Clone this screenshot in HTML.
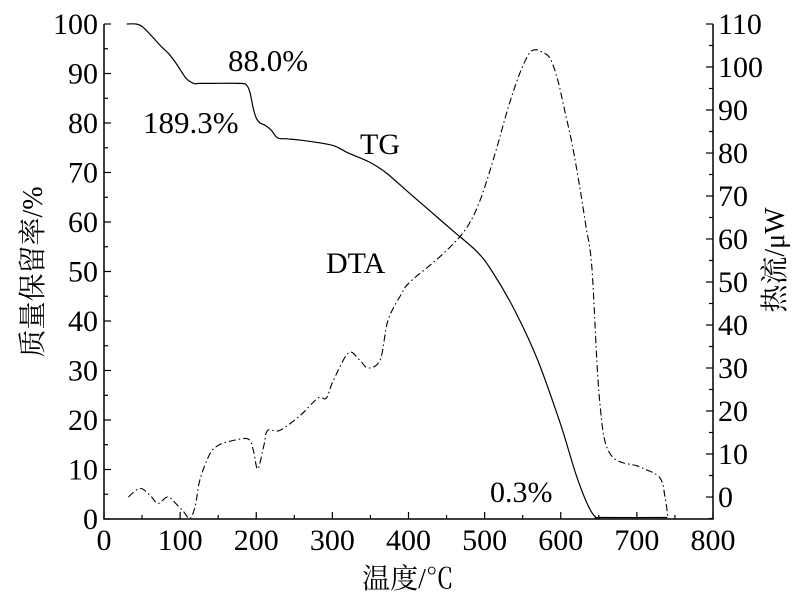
<!DOCTYPE html>
<html><head><meta charset="utf-8"><style>
body{margin:0;background:#fff;}
svg text{font-family:"Liberation Serif","Noto Serif CJK SC",serif;fill:#000;}
</style></head><body>
<svg width="800" height="596" xmlns="http://www.w3.org/2000/svg">
<g id="axes"></g>
<g id="series"></g>
<text x="228" y="71" font-size="31">88.0%</text>
<text x="143" y="133" font-size="31">189.3%</text>
<text x="360" y="154" font-size="30">TG</text>
<text x="326" y="273" font-size="30">DTA</text>
<text x="490" y="502" font-size="30">0.3%</text>
<text x="408" y="588" font-size="28" text-anchor="middle">温度/℃</text>
<text transform="translate(42,272) rotate(-90)" font-size="28" text-anchor="middle">质量保留率/%</text>
<text transform="translate(784,260) rotate(-90)" font-size="28" text-anchor="middle">热流/μW</text>
</svg>
<script>
const xTicks=[0,100,200,300,400,500,600,700,800];
const leftTicks=[0,10,20,30,40,50,60,70,80,90,100];
const rightTicks=[0,10,20,30,40,50,60,70,80,90,100,110];
const tgTemp=[30,42,50,60,75,85,95,108,118,125,140,180,188,192,196,200,205,212,220,228,240,260,300,320,350,370,400,430,460,490,510,540,570,600,620,635,645,655,740];
const tgMass=[100,100,99.5,98,95.5,94,92,89,88,88,88,88,87.5,86,83,81,80,79.5,78.5,77,76.8,76.5,75.5,74,72,70,66,62,58,54,50,42,32,19,9,3,0.5,0.3,0.3];
const dtaTemp=[32,47,60,71,84,97,105,113,120,126,139,150,166,189,196,202,210,215,231,258,281,292,301,321,335,347,363,373,390,402,442,474,494,514,530,545,558,566,575,586,596,605,615,625,633,641,651,665,704,730,737,741];
const dtaFlow=[0,2,0.5,-1.5,0,-2,-3.5,-5,-2,4,10,12,13,13.5,11,6.5,12,15.5,15.5,19,23,23,27,33.5,32,30,32,41,47,50,56,62,69,80,90,98,103,104,103.5,102,97,90,82,72,63,53,22.5,10,7,4.5,0,-5];
const X0=104,X1=713,Y0=519,Y100=24,R0=497,R110=24;
const sx=v=>X0+(X1-X0)*v/800;
const sy=v=>Y0-(Y0-Y100)*v/100;
const sr=v=>R0-(R0-R110)*v/110;
const NS="http://www.w3.org/2000/svg";
const ax=document.getElementById('axes'),se=document.getElementById('series');
function mk(tag,attrs,parent){const e=document.createElementNS(NS,tag);for(const k in attrs)e.setAttribute(k,attrs[k]);parent.appendChild(e);return e;}
let e;
e=mk('path',{d:`M${X0},${Y100}V${Y0}H${X1}V${R110}`,fill:'none',stroke:'#000','stroke-width':1.5},ax);


for(let i=0;i<=16;i++){const v=i*50,x=sx(v);mk('line',{x1:x,x2:x,y1:Y0,y2:Y0-(i%2?4:7),stroke:'#000','stroke-width':1.2},ax);}
xTicks.forEach(v=>{e=mk('text',{x:sx(v),y:Y0+31,'font-size':30,'text-anchor':'middle'},ax);e.textContent=v;

});
for(let i=0;i<=20;i++){const y=sy(i*5);mk('line',{x1:X0,x2:X0+(i%2?4:7),y1:y,y2:y,stroke:'#000','stroke-width':1.2},ax);}
leftTicks.forEach(v=>{e=mk('text',{x:X0-6,y:sy(v)+10,'font-size':30,'text-anchor':'end'},ax);e.textContent=v;

});
for(let i=-1;i<=22;i++){const y=sr(i*5);mk('line',{x1:X1,x2:X1-(i%2?4:7),y1:y,y2:y,stroke:'#000','stroke-width':1.2},ax);}
rightTicks.forEach(v=>{e=mk('text',{x:X1+5,y:sr(v)+10,'font-size':30},ax);e.textContent=v;

});
function smooth(xs,ys,fy){
  const p=xs.map((t,i)=>[sx(t),fy(ys[i])]);
  let d='M'+p[0][0].toFixed(1)+','+p[0][1].toFixed(1);
  for(let i=0;i<p.length-1;i++){
    const a=p[Math.max(0,i-1)],b=p[i],c=p[i+1],n=p[Math.min(p.length-1,i+2)];
    const c1=[b[0]+(c[0]-a[0])/6,b[1]+(c[1]-a[1])/6],c2=[c[0]-(n[0]-b[0])/6,c[1]-(n[1]-b[1])/6];
    d+=`C${c1[0].toFixed(1)},${c1[1].toFixed(1)} ${c2[0].toFixed(1)},${c2[1].toFixed(1)} ${c[0].toFixed(1)},${c[1].toFixed(1)}`;
  }
  return d;
}
e=mk('path',{d:smooth(tgTemp,tgMass,sy),fill:'none',stroke:'#000','stroke-width':1.2},se);


e=mk('path',{d:smooth(dtaTemp,dtaFlow,sr),fill:'none',stroke:'#000','stroke-width':1.1,'stroke-dasharray':'7 3 1.5 3'},se);


</script>
</body></html>
